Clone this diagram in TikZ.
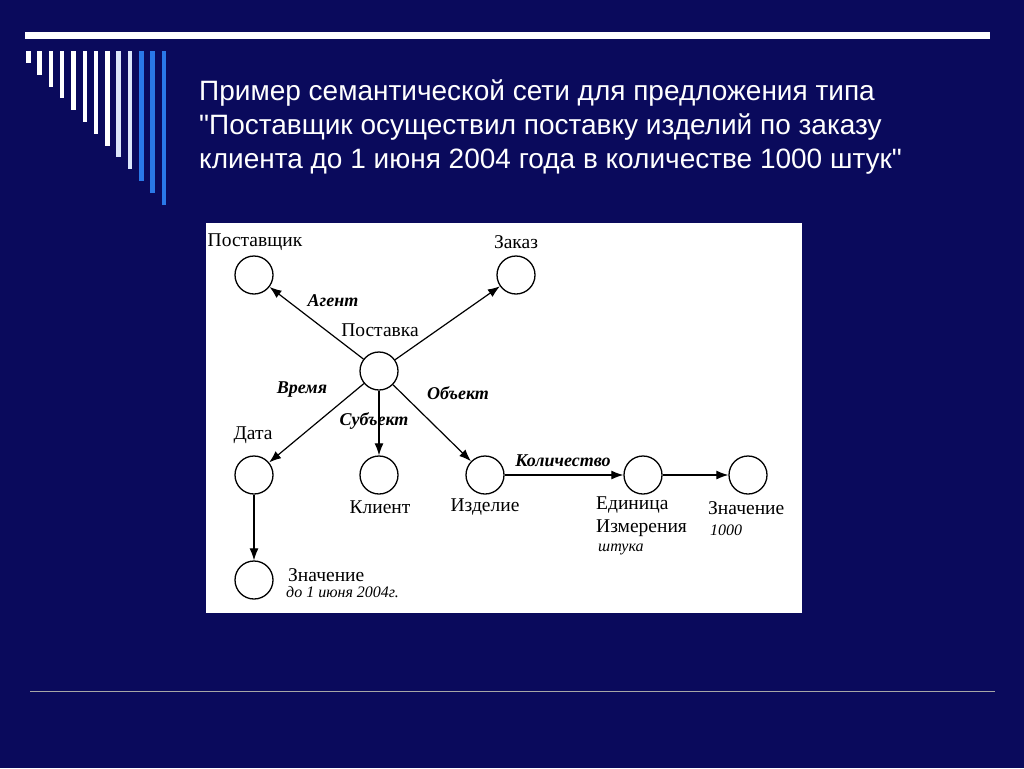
\documentclass[tikz,border=0pt]{standalone}
\usepackage{fontspec}
\setmainfont{Liberation Serif}
\newfontfamily\titlefont{Liberation Sans}
\usetikzlibrary{arrows.meta}
\definecolor{slidebg}{HTML}{0A0A5C}
\definecolor{stripeblue}{HTML}{2A78E8}
\definecolor{stripelight}{HTML}{DCE6FA}
\tikzset{
    concept/.style={draw=black, line width=1.3pt, circle, minimum size=38pt, inner sep=0pt},
    relation/.style={draw=black, line width=1.2pt, -{Latex[length=12pt,width=9pt]}},
    rellabel/.style={font=\fontsize{18}{18}\selectfont\bfseries\itshape},
    nodetext/.style={font=\fontsize{19.5}{19.5}\selectfont, inner sep=0pt},
    valtext/.style={font=\fontsize{16}{16}\selectfont\itshape, inner sep=0pt},
}
\begin{document}
\begin{tikzpicture}[x=1pt,y=-1pt]
    \fill[slidebg] (0,0) rectangle (1024,768);
    \useasboundingbox (0,0) rectangle (1024,768);
    % slide decoration
    \fill[white] (25,32) rectangle (990,39);
    \foreach \i/\c in {0/white,1/white,2/white,3/white,4/white,5/white,6/white,7/white,8/stripelight,9/stripelight,10/stripeblue,11/stripeblue,12/stripeblue}
        \fill[\c] (26+11.3*\i,51) rectangle (30.5+11.3*\i,63+11.8*\i);
    \draw[gray!70, line width=0.8pt] (30,691) -- (995,691);
    % title
    \node[anchor=north west, align=left, text=white, inner sep=0pt,
          font=\titlefont\fontsize{28}{34}\selectfont] (title) at (199,80)
        {Пример семантической сети для предложения типа\\
         "Поставщик осуществил поставку изделий по заказу\\
         клиента до 1 июня 2004 года в количестве 1000 штук"};
    % diagram
    \fill[white] (206,223) rectangle (802,613);
    \node[concept] (supplier) at (254,275) {};
    \node[concept] (order) at (516,275) {};
    \node[concept] (delivery) at (379,371) {};
    \node[concept] (date) at (254,475) {};
    \node[concept] (client) at (379,475) {};
    \node[concept] (product) at (485,475) {};
    \node[concept] (unit) at (643,475) {};
    \node[concept] (amount) at (748,475) {};
    \node[concept] (dateval) at (254,580) {};
    \node[nodetext] (supplierlbl) at (255,242) {Поставщик};
    \node[nodetext] (orderlbl) at (516,242) {Заказ};
    \node[nodetext] (deliverylbl) at (380,330) {Поставка};
    \node[nodetext] (datelbl) at (253,435) {Дата};
    \node[nodetext] (clientlbl) at (380,507) {Клиент};
    \node[nodetext] (productlbl) at (485,507) {Изделие};
    \node[nodetext, align=left, anchor=north west, font=\fontsize{19.5}{23}\selectfont] (unitlbl) at (596,497) {Единица\\Измерения};
    \node[valtext, anchor=west] (unitval) at (598,549) {штука};
    \node[nodetext, anchor=west] (amountlbl) at (708,508) {Значение};
    \node[valtext, anchor=west] (amountval) at (710,530) {1000};
    \node[nodetext, anchor=west] (datevallbl) at (288,575) {Значение};
    \node[valtext, anchor=west] (datevalval) at (286,592) {до 1 июня 2004г.};
    \draw[relation] (delivery) -- (supplier);
    \draw[relation] (delivery) -- (order);
    \draw[relation] (delivery) -- (date);
    \draw[relation] (delivery) -- (client);
    \draw[relation] (delivery) -- (product);
    \draw[relation] (date) -- (dateval);
    \draw[relation] (product) -- (unit);
    \draw[relation] (unit) -- (amount);
    \node[rellabel] (agent) at (333,301) {Агент};
    \node[rellabel] (time) at (302,390) {Время};
    \node[rellabel] (subject) at (374,421) {Субъект};
    \node[rellabel] (object) at (458,393) {Объект};
    \node[rellabel] (quantity) at (563,461) {Количество};
\end{tikzpicture}
\end{document}
